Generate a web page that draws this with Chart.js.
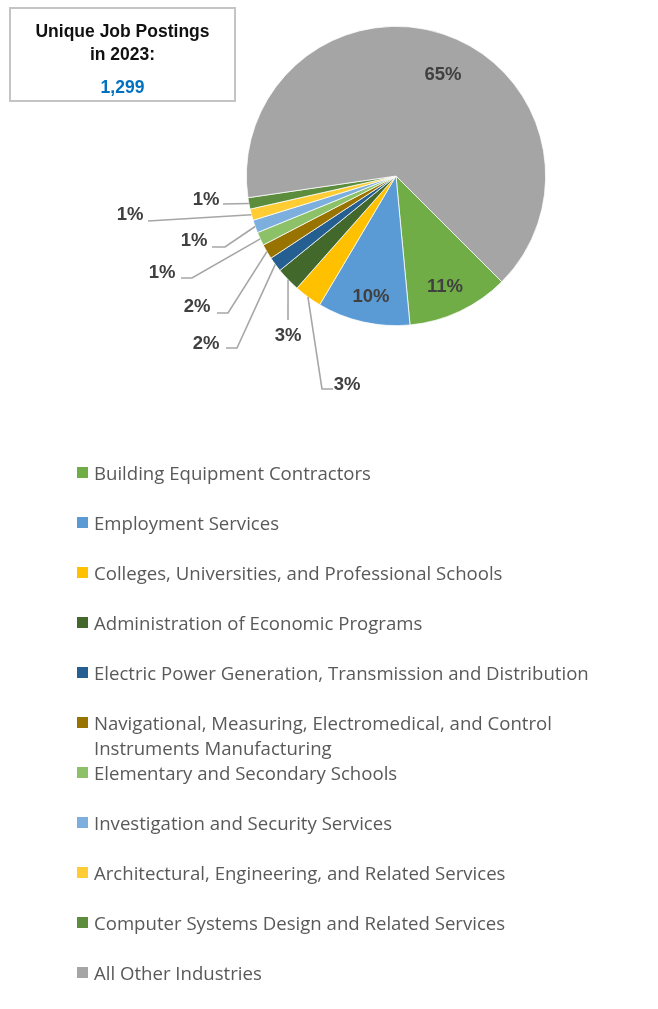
<!DOCTYPE html>
<html>
<head>
<meta charset="utf-8">
<script src="https://cdn.jsdelivr.net/npm/chart.js@4"></script>
<style>
  html, body { margin: 0; padding: 0; background: #ffffff; }
  body { width: 658px; height: 1009px; position: relative; overflow: hidden; }
  #chartCanvas { position: absolute; left: 0; top: 0; }
  #titleBox {
    position: absolute; left: 9px; top: 7px; width: 223px; height: 91px;
    border: 2px solid #c4c4c4; box-sizing: content-box;
    font-family: "Liberation Sans", Arial, sans-serif; font-weight: bold;
    text-align: center; color: #111;
  }
  #titleBox .l1 { position: absolute; left: 0; right: 0; top: 11px; font-size: 17.5px; line-height: 22px; }
  #titleBox .l2 { position: absolute; left: 0; right: 0; top: 34px; font-size: 17.5px; line-height: 22px; }
  #titleBox .l3 { position: absolute; left: 0; right: 0; top: 67px; font-size: 17.5px; line-height: 22px; color: #0070c0; }
  #legend { position: absolute; left: 0; top: 0; width: 658px; height: 1009px; pointer-events: none; }
  .item { position: absolute; left: 77px; font-family: "Open Sans", Lato, sans-serif; font-size: 18.6px; line-height: 25px; color: #595959; }
  .sw { position: absolute; left: 0; top: 7px; width: 11px; height: 11px; }
  .tx { position: absolute; left: 17px; top: 0; width: 525px; }
</style>
</head>
<body>
<canvas id="chartCanvas" width="658" height="420"></canvas>
<div id="titleBox">
  <div class="l1">Unique Job Postings</div>
  <div class="l2">in 2023:</div>
  <div class="l3" id="totalText"></div>
</div>
<div id="legend"></div>
<script>
// ---- data ----
const categories = [
  "Building Equipment Contractors",
  "Employment Services",
  "Colleges, Universities, and Professional Schools",
  "Administration of Economic Programs",
  "Electric Power Generation, Transmission and Distribution",
  "Navigational, Measuring, Electromedical, and Control Instruments Manufacturing",
  "Elementary and Secondary Schools",
  "Investigation and Security Services",
  "Architectural, Engineering, and Related Services",
  "Computer Systems Design and Related Services",
  "All Other Industries"
];
const postings = [143, 130, 39, 34, 21, 21, 19, 18, 16, 16, 842];
const totalPostings = 1299;

// ---- styles ----
const sliceColors = ["#70ad47", "#5b9bd5", "#ffc000", "#43682b", "#255e91", "#997300",
                     "#8cc168", "#7cafdd", "#ffcd33", "#5b8d3c", "#a5a5a5"];

// label placement relative to pie centre: text centre, optional leader elbow and end
const labelLayout = [
  { t: [49, 111] },
  { t: [-25, 121] },
  { t: [-49, 209], e: [-74, 213], h: -63 },
  { t: [-108, 160], e: [-108, 144] },
  { t: [-190, 168], e: [-159, 172], h: -170 },
  { t: [-199, 131], e: [-168, 137], h: -179 },
  { t: [-234, 97], e: [-204, 102], h: -215 },
  { t: [-202, 65], e: [-171, 71], h: -184 },
  { t: [-266, 39], e: [-248, 45] },
  { t: [-190, 24], e: [-173, 28] },
  { t: [47, -101] }
];

document.getElementById('totalText').textContent = totalPostings.toLocaleString('en-US');

const pieLabels = {
  id: 'pieLabels',
  afterDatasetsDraw(chart) {
    const ctx = chart.ctx;
    const meta = chart.getDatasetMeta(0);
    const sum = postings.reduce((a, b) => a + b, 0);
    ctx.save();
    meta.data.forEach((arc, i) => {
      const lay = labelLayout[i];
      const cx = arc.x, cy = arc.y;
      const mid = (arc.startAngle + arc.endAngle) / 2;
      if (lay.e) {
        const r = arc.outerRadius;
        ctx.beginPath();
        ctx.strokeStyle = '#a6a6a6';
        ctx.lineWidth = 1.6;
        ctx.moveTo(cx + Math.cos(mid) * r, cy + Math.sin(mid) * r);
        ctx.lineTo(cx + lay.e[0], cy + lay.e[1]);
        if (lay.h !== undefined) ctx.lineTo(cx + lay.h, cy + lay.e[1]);
        ctx.stroke();
      }
      ctx.fillStyle = '#404040';
      ctx.font = 'bold 18.5px "Liberation Sans", Arial, sans-serif';
      ctx.textAlign = 'center';
      ctx.textBaseline = 'middle';
      ctx.fillText(Math.round(postings[i] / sum * 100) + '%', cx + lay.t[0], cy + lay.t[1]);
    });
    ctx.restore();
  }
};

const htmlLegend = {
  id: 'htmlLegend',
  afterUpdate(chart) {
    const box = document.getElementById('legend');
    box.innerHTML = '';
    const items = chart.options.plugins.legend.labels.generateLabels(chart);
    items.forEach((it, i) => {
      const d = document.createElement('div');
      d.className = 'item';
      d.style.top = (472 + i * 50 - 12.5) + 'px';
      const s = document.createElement('div');
      s.className = 'sw';
      s.style.background = it.fillStyle;
      const t = document.createElement('div');
      t.className = 'tx';
      t.textContent = it.text;
      d.appendChild(s); d.appendChild(t);
      box.appendChild(d);
    });
  }
};

new Chart(document.getElementById('chartCanvas'), {
  type: 'pie',
  data: {
    labels: categories,
    datasets: [{
      data: postings,
      backgroundColor: sliceColors,
      borderColor: '#ffffff',
      borderWidth: 0.75
    }]
  },
  options: {
    responsive: false,
    animation: false,
    devicePixelRatio: 1,
    rotation: 135,
    layout: { padding: { left: 246, top: 26, right: 112, bottom: 94 } },
    plugins: {
      legend: { display: false },
      tooltip: { enabled: false }
    }
  },
  plugins: [pieLabels, htmlLegend]
});
</script>
</body>
</html>
